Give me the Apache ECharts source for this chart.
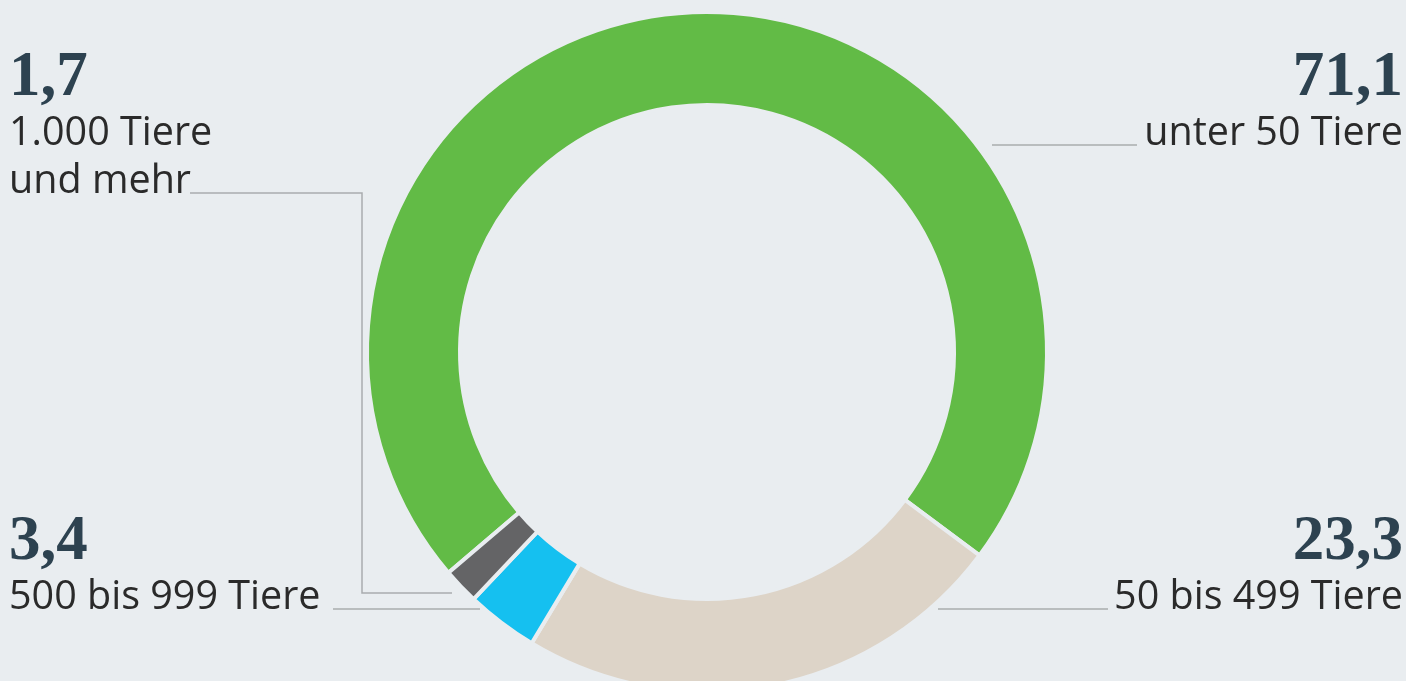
<!DOCTYPE html>
<html>
<head>
<meta charset="utf-8">
<style>
  html, body { margin: 0; padding: 0; background: #e9edf0; }
  #main-chart { width: 1406px; height: 681px; }
</style>
<script src="https://cdn.jsdelivr.net/npm/echarts@6/dist/echarts.min.js"></script>
</head>
<body>
<div id="main-chart"></div>
<script>
// Betriebe nach Bestandsgröße (Anteil in %)
const categories = ['unter 50 Tiere', '50 bis 499 Tiere', '500 bis 999 Tiere', '1.000 Tiere\nund mehr'];
const shares = [71.1, 23.3, 3.4, 1.7];
const colors = ['#62bb46', '#ddd4c8', '#15c0f0', '#646466'];

(function() {
    'use strict';

    const chart = echarts.init(document.getElementById('main-chart'));

    // Lage der Beschriftungen und Führungslinien je Segment
    const labelPlaces = [
        { x: 1403, y: 47, side: 'R', line: [[992, 145], [1137, 145]] },
        { x: 1403, y: 511, side: 'R', line: [[938, 609], [1108, 609]] },
        { x: 9, y: 511, side: 'L', line: [[333, 609], [480, 609]] },
        { x: 9, y: 47, side: 'L', line: [[190, 193], [362, 193], [362, 593], [452, 593]] }
    ];

    const numStyle = {
        fontFamily: 'Liberation Serif',
        fontWeight: 'bold',
        fontSize: 63,
        lineHeight: 63,
        color: '#2d4250'
    };
    const txtStyle = {
        fontFamily: 'Open Sans',
        fontSize: 39.5,
        lineHeight: 48,
        color: '#2a2a2a'
    };

    const option = {
        backgroundColor: '#e9edf0',
        animation: false,
        series: [{
            type: 'pie',
            center: [707, 352],
            radius: [247, 340],
            startAngle: 220.5,
            clockwise: true,
            data: categories.map((name, i) => ({
                name: name,
                value: shares[i],
                itemStyle: { color: colors[i] }
            })),
            itemStyle: {
                borderColor: '#e9edf0',
                borderWidth: 4
            },
            label: {
                show: true,
                position: 'outside',
                overflow: 'none',
                formatter: function(p) {
                    const side = labelPlaces[p.dataIndex].side;
                    const num = p.value.toFixed(1).replace('.', ',');
                    const lines = p.name.split('\n').map(l => '{t' + side + '|' + l + '}');
                    return '{n' + side + '|' + num + '}\n' + lines.join('\n');
                },
                rich: {
                    nL: Object.assign({ align: 'left' }, numStyle),
                    nR: Object.assign({ align: 'right' }, numStyle),
                    tL: Object.assign({ align: 'left' }, txtStyle),
                    tR: Object.assign({ align: 'right' }, txtStyle)
                }
            },
            labelLine: {
                show: true,
                smooth: false,
                lineStyle: { color: '#a9acae', width: 1.5 }
            },
            labelLayout: function(params) {
                const p = labelPlaces[params.dataIndex];
                return {
                    x: p.x,
                    y: p.y,
                    align: p.side === 'R' ? 'right' : 'left',
                    verticalAlign: 'top',
                    labelLinePoints: p.line
                };
            },
            emphasis: { disabled: true }
        }]
    };

    chart.setOption(option);
})();
</script>
</body>
</html>
